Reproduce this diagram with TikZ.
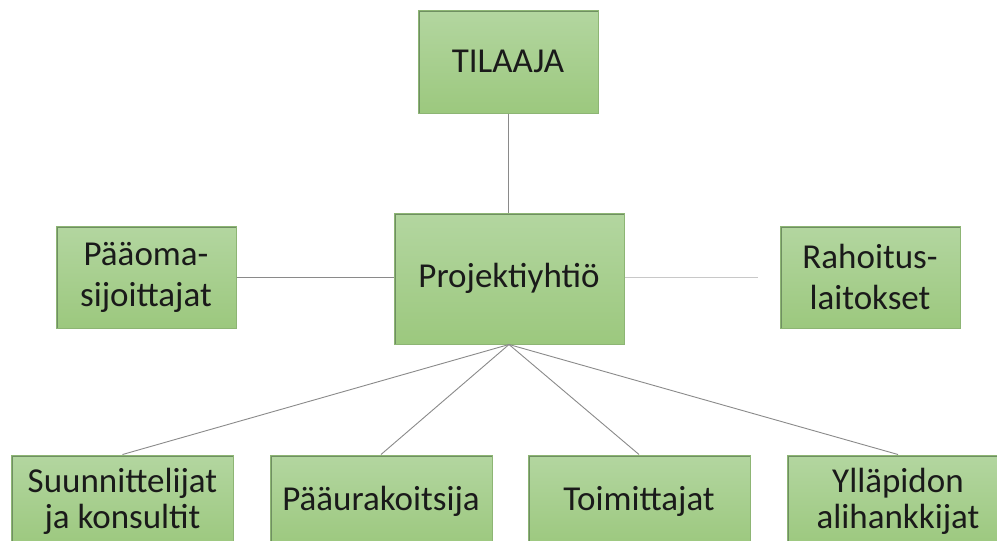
\documentclass[tikz,border=0pt]{standalone}
\usepackage{fontspec}
\setmainfont{Carlito}
\definecolor{boxtop}{HTML}{B3D6A0}
\definecolor{boxbot}{HTML}{9CC87E}
\definecolor{boxedge}{HTML}{8DB574}
\definecolor{boxshade}{HTML}{6F8F62}
\definecolor{linegray}{HTML}{8A8A8A}
\definecolor{lightgray2}{HTML}{C8C8C8}
\definecolor{txt}{HTML}{1A1A1A}
\begin{document}
\begin{tikzpicture}[x=1pt,y=-1pt,
  box/.style={rectangle, inner sep=0pt, align=center,
    font=\fontsize{35}{41}\selectfont, text=txt,
    top color=boxtop, bottom color=boxbot, draw=boxedge, line width=1pt,
    path picture={\draw[boxshade,line width=3pt]
      (path picture bounding box.south west) -- (path picture bounding box.north west)
      -- (path picture bounding box.north east);}},
  lowbox/.style={box, font=\fontsize{35}{36}\selectfont, minimum width=222pt, minimum height=92pt},
  conn/.style={draw=linegray, line width=0.9pt}]
\useasboundingbox (0,0) rectangle (997,541);
\clip (0,0) rectangle (997,541);
\fill[white] (0,0) rectangle (997,541);

\node[box, minimum width=180pt, minimum height=103pt] (til) at (508,61.5) {TILAAJA};
\node[box, minimum width=230pt, minimum height=131pt] (proj) at (509,278.5) {Projektiyhtiö};
\node[box, minimum width=180pt, minimum height=102pt] (paa) at (146,277) {Pääoma-\\sijoittajat};
\node[box, minimum width=180pt, minimum height=102pt] (rah) at (870,277) {Rahoitus-\\laitokset};

\node[lowbox] (suu) at (122.5,501) {Suunnittelijat\\ja konsultit};
\node[lowbox] (ura) at (381,501) {Pääurakoitsija};
\node[lowbox] (toi) at (639,501) {Toimittajat};
\node[lowbox] (yll) at (898,501) {Ylläpidon\\alihankkijat};

\coordinate (rahgap) at (758,277);

\draw[conn] (til.south) -- (til.south |- proj.north);
\draw[conn] (paa.east) -- (paa.east -| proj.west);
\draw[conn, draw=lightgray2] (proj.west -| proj.east) ++(0,-1.5) -- (rahgap);
\draw[conn] (proj.south) -- (suu.north);
\draw[conn] (proj.south) -- (ura.north);
\draw[conn] (proj.south) -- (toi.north);
\draw[conn] (proj.south) -- (yll.north);
\end{tikzpicture}
\end{document}
